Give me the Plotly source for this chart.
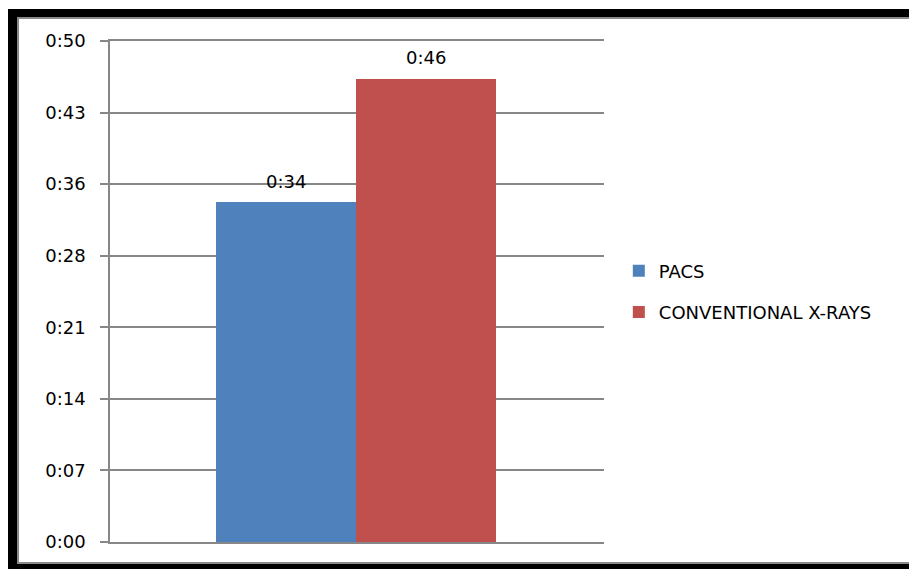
import plotly.graph_objects as go

series = ["PACS", "CONVENTIONAL X-RAYS"]
minutes = [34.2, 46.6]          # durations in minutes
colors = ["#4F81BD", "#C0504D"]
tick_minutes = [0, 7.2, 14.4, 21.6, 28.8, 36.0, 43.2, 50.4]

def fmt(m):
    return f"0:{int(m):02d}"

W, H = 909, 569
L, R, T, B = 110, 604, 41, 542   # plot area in pixels
FS = 18

def px(x):
    return (x - L) / (R - L)

def py(y):
    return (B - y) / (B - T)

fig = go.Figure()
for name, v, c in zip(series, minutes, colors):
    fig.add_trace(go.Bar(
        x=[name], y=[v], name=name, marker=dict(color=c, line=dict(width=0)),
        width=1.0, legendgroup=name, hoverinfo="skip",
    ))
    fig.add_annotation(x=name, y=v, text=fmt(v), showarrow=False,
                       yshift=21, font=dict(size=FS, color="black"))

shapes = []
def rect(x0, y0, x1, y1, color):
    shapes.append(dict(type="rect", xref="paper", yref="paper",
                       x0=px(x0), x1=px(x1), y0=py(y0), y1=py(y1),
                       fillcolor=color, line=dict(width=0), layer="above"))
# frame
rect(8, 9, 17, 569, "black")
rect(8, 9, 909, 17, "black")
rect(8, 564, 909, 569, "black")
rect(17, 17, 19, 563, "#8a8a8a")
rect(17, 17, 909, 19, "#8a8a8a")
rect(17, 562, 909, 564, "#8a8a8a")

fig.update_layout(
    width=W, height=H,
    margin=dict(l=L, r=W - R, t=T, b=H - B, pad=0),
    paper_bgcolor="white", plot_bgcolor="white",
    font=dict(family="DejaVu Sans", size=FS, color="black"),
    barmode="overlay", bargap=0,
    showlegend=True,
    legend=dict(x=1.03, y=0.5, xanchor="left", yanchor="middle",
                traceorder="grouped", tracegroupgap=15,
                font=dict(size=FS, color="black"), bgcolor="rgba(0,0,0,0)"),
    shapes=shapes,
    xaxis=dict(range=[-1.26, 2.27], showticklabels=False, showgrid=False,
               zeroline=False, showline=True, mirror=True,
               linecolor="#878787", linewidth=1.5, ticks=""),
    yaxis=dict(range=[0, 50.4], tickvals=tick_minutes,
               ticktext=[fmt(t) for t in tick_minutes],
               showgrid=True, gridcolor="#878787", gridwidth=1.5,
               zeroline=False, showline=True, linecolor="#878787", linewidth=1.5,
               ticks="outside", ticklen=8, tickcolor="#878787", tickwidth=1.5,
               ticklabelstandoff=11, tickfont=dict(size=FS, color="black")),
)
fig.write_html("out.html")
